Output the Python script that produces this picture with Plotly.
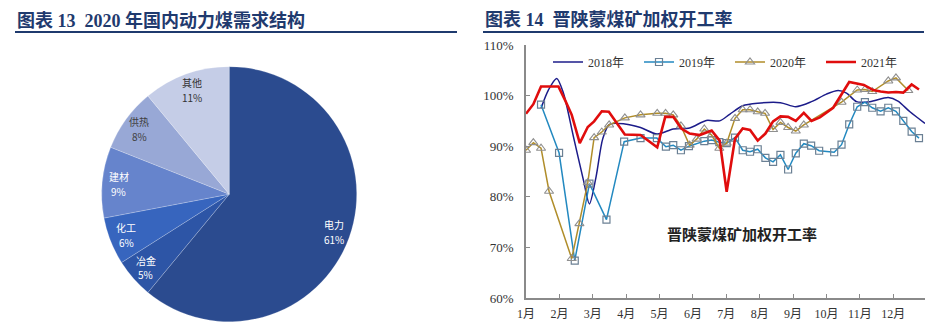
import math
import plotly.graph_objects as go

W, H = 943, 334

# ---- Pie: 2020 thermal coal demand structure ----
pie_labels = ["电力", "冶金", "化工", "建材", "供热", "其他"]
pie_values = [61, 5, 6, 9, 8, 11]
pie_colors = ["#2b4b8f", "#2d55a6", "#3765be", "#6684cc", "#98a8d6", "#c5cde7"]
pie_text_colors = ["white", "white", "white", "white", "#404040", "#333333"]

# ---- Lines: weighted operating rate (x = position in months from Jan) ----
month_ticks = ["1月", "2月", "3月", "4月", "5月", "6月", "7月", "8月", "9月", "10月", "11月", "12月"]

x2018 = [0.45, 0.67, 0.92, 1.12, 1.42, 1.72, 1.9, 2.1, 2.3, 2.5, 2.96, 3.43, 3.93, 4.41,
         4.9, 5.4, 5.8, 6.1, 6.49, 6.94, 7.62, 8.08, 8.55, 9.0, 9.35, 9.6, 9.9, 10.3,
         10.85, 11.14, 11.5, 11.95]
y2018 = [97.5, 101.1, 103.4, 100.5, 91.9, 83.3, 78.6, 84.0, 91.5, 94.3, 94.4, 93.7, 92.4, 93.4,
         93.6, 95.1, 95.0, 96.3, 98.0, 98.5, 98.6, 97.8, 98.8, 100.3, 101.0, 100.5, 98.8, 98.8,
         99.6, 98.9, 96.8, 94.5]

x2019 = [0.45, 0.99, 1.46, 1.9, 2.41, 2.94, 3.43, 3.92, 4.19, 4.41, 4.64, 4.88, 5.34, 5.56,
         5.79, 6.01, 6.26, 6.49, 6.71, 6.94, 7.17, 7.4, 7.62, 7.85, 8.08, 8.32, 8.54, 8.78,
         9.23, 9.45, 9.68, 9.92, 10.15, 10.37, 10.62, 10.85, 11.08, 11.3, 11.55, 11.77]
y2019 = [98.2, 88.7, 67.4, 82.6, 75.5, 90.9, 91.6, 91.6, 89.9, 90.2, 89.2, 90.0, 91.0, 91.2,
         90.8, 90.6, 91.7, 89.2, 88.9, 89.4, 87.7, 86.9, 88.3, 85.4, 88.6, 90.5, 90.1, 89.1,
         88.8, 90.3, 94.3, 97.8, 98.7, 97.6, 96.9, 97.6, 96.9, 95.0, 92.9, 91.6]

x2020 = [0.0, 0.22, 0.45, 0.69, 1.37, 1.6, 1.85, 2.04, 2.27, 2.49, 2.96, 3.43, 3.93, 4.18,
         4.41, 4.64, 4.9, 5.11, 5.34, 5.56, 5.79, 6.01, 6.26, 6.49, 6.71, 6.94, 7.16, 7.4,
         7.62, 7.85, 8.08, 8.32, 9.45, 9.92, 10.15, 10.37, 10.85, 11.08, 11.45]
y2020 = [89.2, 90.7, 89.6, 81.1, 67.8, 74.7, 82.8, 91.7, 92.8, 94.2, 95.6, 96.2, 96.5, 96.5,
         96.2, 94.0, 90.2, 91.4, 93.4, 92.2, 89.6, 90.6, 95.5, 97.2, 97.2, 96.8, 96.5, 93.3,
         94.7, 93.7, 93.0, 94.2, 98.7, 101.1, 101.2, 100.8, 102.9, 103.5, 101.0]

x2021 = [0.0, 0.22, 0.45, 0.97, 1.17, 1.37, 1.61, 1.85, 2.04, 2.27, 2.48, 2.72, 2.96, 3.43,
         3.93, 4.17, 4.41, 4.65, 4.9, 5.2, 5.56, 5.8, 6.01, 6.26, 6.49, 6.71, 6.94, 7.17,
         7.4, 7.62, 7.85, 8.08, 8.32, 8.55, 8.8, 9.2, 9.68, 10.12, 10.4, 10.62, 10.85, 11.08,
         11.3, 11.55, 11.77]
y2021 = [96.4, 98.3, 101.8, 101.8, 99.1, 96.2, 90.6, 93.8, 94.9, 96.9, 96.8, 94.5, 92.3, 92.2,
         89.8, 95.8, 95.8, 93.5, 92.5, 92.2, 93.1, 91.1, 81.0, 91.5, 93.5, 93.2, 91.1, 92.5,
         94.9, 95.9, 95.8, 95.0, 96.6, 95.0, 95.7, 97.6, 102.7, 102.1, 101.1, 100.8, 100.6, 100.7,
         100.6, 102.2, 101.2]


def px(x):
    return x / W


def py(y):
    return 1 - y / H


fig = go.Figure()

# pie placement (pixels)
pie_left, pie_right, pie_top, pie_bottom = 101.7, 356.7, 66.7, 321.7
fig.add_trace(go.Pie(
    labels=pie_labels, values=pie_values, sort=False, direction="clockwise", rotation=0,
    marker=dict(colors=pie_colors, line=dict(color="rgba(255,255,255,0.35)", width=0.6)),
    textinfo="none", hoverinfo="label+percent", showlegend=False,
    domain=dict(x=[px(pie_left), px(pie_right)], y=[py(pie_bottom), py(pie_top)]),
))

# slice labels (name above, share below) at the mid-angle of each slice
cx = (pie_left + pie_right) / 2
cy = (pie_top + pie_bottom) / 2
R = (pie_right - pie_left) / 2
total = sum(pie_values)
acc = 0
annotations = []
for lab, val, tc in zip(pie_labels, pie_values, pie_text_colors):
    mid = (acc + val / 2) / total * 2 * math.pi
    acc += val
    lx = cx + 0.87 * R * math.sin(mid)
    ly = cy - 0.87 * R * math.cos(mid)
    for txt, dy in ((lab, -7.4), (f"{val}%", 7.4)):
        annotations.append(dict(
            x=px(lx), y=py(ly + dy), xref="paper", yref="paper", showarrow=False,
            xanchor="center", yanchor="middle", text=txt,
            font=dict(family="Noto Sans CJK SC", size=10, color=tc),
        ))

serif = "Liberation Serif, Noto Sans CJK SC"

series = [
    ("2018年", x2018, y2018, dict(color="#1c1c8a", width=1.5, shape="spline", smoothing=0.8), None),
    ("2019年", x2019, y2019, dict(color="#2389c0", width=1.5),
     dict(symbol="square-open", size=7, color="#6b8094", line=dict(width=1.2))),
    ("2020年", x2020, y2020, dict(color="#b08d2a", width=1.5),
     dict(symbol="triangle-up-open", size=8, color="#8f8f8f", line=dict(width=1.1))),
    ("2021年", x2021, y2021, dict(color="#e00d0d", width=2.6), None),
]
for name, xs, ys, line, marker in series:
    fig.add_trace(go.Scatter(
        x=xs, y=[v / 100 for v in ys], name=name,
        mode="lines+markers" if marker else "lines",
        line=line, marker=marker, xaxis="x", yaxis="y",
    ))

axis_color = "#8a8a8a"
fig.update_layout(
    width=W, height=H, margin=dict(l=0, r=0, t=0, b=0, autoexpand=False),
    paper_bgcolor="white", plot_bgcolor="white",
    xaxis=dict(
        domain=[px(526), px(925)], range=[0, 11.95],
        tickvals=list(range(12)), ticktext=month_ticks, tickangle=0,
        showgrid=False, zeroline=False, showline=True, linecolor=axis_color, linewidth=1.5,
        ticks="inside", ticklen=4, tickcolor=axis_color, ticklabelstandoff=4,
        tickfont=dict(family=serif, size=12, color="#333333"), anchor="y",
    ),
    yaxis=dict(
        domain=[py(298), py(45)], range=[0.6, 1.1], tickformat=".0%", dtick=0.1,
        showgrid=False, zeroline=False, showline=True, linecolor=axis_color, linewidth=1.5,
        ticks="inside", ticklen=4, tickcolor=axis_color, ticklabelstandoff=8,
        tickfont=dict(family=serif, size=13, color="#333333"), anchor="x",
    ),
    legend=dict(
        orientation="h", x=px(548), y=py(62), xanchor="left", yanchor="middle",
        font=dict(family=serif, size=12, color="#333333"),
        entrywidth=46, entrywidthmode="pixels", bgcolor="rgba(0,0,0,0)",
        itemwidth=30,
    ),
)

# headers
title_color = "#1f3a6e"
annotations += [
    dict(x=px(15), y=py(20), xref="paper", yref="paper", xanchor="left", yanchor="middle",
         showarrow=False, text="<b>图表 13  2020 年国内动力煤需求结构</b>",
         font=dict(family=serif, size=18, color=title_color)),
    dict(x=px(483), y=py(20), xref="paper", yref="paper", xanchor="left", yanchor="middle",
         showarrow=False, text="<b>图表 14  晋陕蒙煤矿加权开工率</b>",
         font=dict(family=serif, size=18, color=title_color)),
    dict(x=px(742), y=py(233), xref="paper", yref="paper", xanchor="center", yanchor="middle",
         showarrow=False, text="<b>晋陕蒙煤矿加权开工率</b>",
         font=dict(family="Noto Sans CJK SC", size=15, color="#222222")),
]
fig.update_layout(annotations=annotations)

fig.add_shape(type="line", xref="paper", yref="paper", x0=px(15), x1=px(457), y0=py(32), y1=py(32),
              line=dict(color=title_color, width=2))
fig.add_shape(type="line", xref="paper", yref="paper", x0=px(483), x1=px(924), y0=py(32), y1=py(32),
              line=dict(color=title_color, width=2))

fig.write_html("out.html")
